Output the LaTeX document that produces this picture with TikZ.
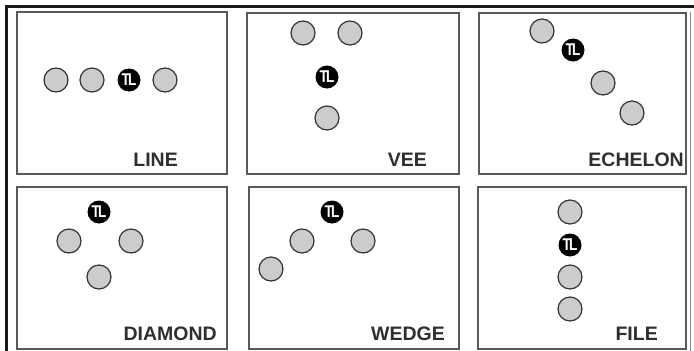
\documentclass[tikz,border=0pt]{standalone}
\usepackage{fontspec}
\setmainfont{Liberation Sans}
\begin{document}
\begin{tikzpicture}[x=1pt,y=-1pt,
  panel/.style={draw=black!65,line width=1.4pt},
  mem/.style={circle,draw=black!80,fill=black!20,line width=1.2pt,minimum size=24pt,inner sep=0pt},
  tl/.style={circle,fill=black,minimum size=23pt,inner sep=0pt,text=white,font=\fontsize{17}{17}\selectfont\bfseries},
  lbl/.style={anchor=base east,inner sep=0pt,text=black!82,font=\fontsize{19.5}{19.5}\selectfont\bfseries}]
\useasboundingbox (0,0) rectangle (694,351);
% outer frame lines
\draw[line width=3pt,black!90] (6,351) -- (6,6) -- (694,6);
\draw[line width=1pt,black!45] (690.5,12) -- (690.5,351);
% panels
\draw[panel] (17,12) rectangle (227,174);
\draw[panel] (247,13) rectangle (459,174);
\draw[panel] (479,13) rectangle (686,174);
\draw[panel] (17,187) rectangle (227,349);
\draw[panel] (249,187) rectangle (459,349);
\draw[panel] (478,187) rectangle (686,349);
\newcommand{\tlmark}{\scalebox{0.8}[1]{T\kern-2.2ptL}}
% LINE
\node[mem] (l1) at (56,80) {};
\node[mem] (l2) at (92,80) {};
\node[tl]  (l3) at (129,80) {\tlmark};
\node[mem] (l4) at (165,80) {};
\node[lbl] (lline) at (178,166) {LINE};
% VEE
\node[mem] (v1) at (303,33) {};
\node[mem] (v2) at (350,33) {};
\node[tl]  (v3) at (327,77) {\tlmark};
\node[mem] (v4) at (327,118) {};
\node[lbl] (lvee) at (427,166) {VEE};
% ECHELON
\node[mem] (e1) at (542,31) {};
\node[tl]  (e2) at (573,50) {\tlmark};
\node[mem] (e3) at (603,83) {};
\node[mem] (e4) at (632,113) {};
\node[lbl] (lech) at (684,166) {ECHELON};
% DIAMOND
\node[tl]  (d1) at (99,212) {\tlmark};
\node[mem] (d2) at (69,241) {};
\node[mem] (d3) at (131,241) {};
\node[mem] (d4) at (99,277) {};
\node[lbl] (ldia) at (217,340) {DIAMOND};
% WEDGE
\node[tl]  (w1) at (332,212) {\tlmark};
\node[mem] (w2) at (302,241) {};
\node[mem] (w3) at (363,241) {};
\node[mem] (w4) at (271,269) {};
\node[lbl] (lwed) at (445,340) {WEDGE};
% FILE
\node[mem] (f1) at (570,212) {};
\node[tl]  (f2) at (570,245) {\tlmark};
\node[mem] (f3) at (570,277) {};
\node[mem] (f4) at (570,309) {};
\node[lbl] (lfile) at (658,340) {FILE};
\end{tikzpicture}
\end{document}
